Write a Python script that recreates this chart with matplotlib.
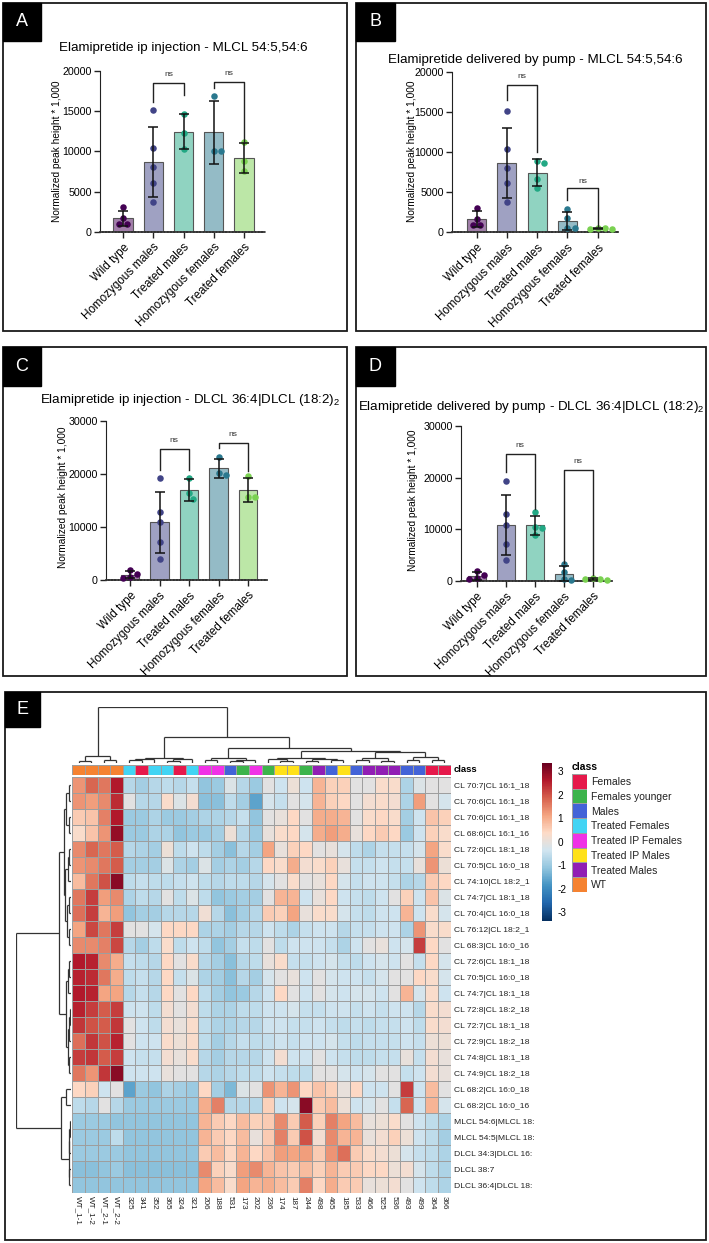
import numpy as np
import matplotlib
matplotlib.use("Agg")
import matplotlib.pyplot as plt
from matplotlib.colors import ListedColormap, Normalize, LinearSegmentedColormap
from matplotlib.patches import Rectangle
from matplotlib.collections import LineCollection
from matplotlib.cm import ScalarMappable

plt.rcParams['font.family'] = ['Liberation Sans', 'DejaVu Sans']
plt.rcParams['mathtext.fontset'] = 'custom'
plt.rcParams['mathtext.rm'] = 'Liberation Sans'
plt.rcParams['mathtext.it'] = 'Liberation Sans:italic'
plt.rcParams['mathtext.bf'] = 'Liberation Sans:bold'
plt.rcParams['axes.unicode_minus'] = False

# ---------------- data: bar panels ----------------
groups = ["Wild type", "Homozygous males", "Treated males", "Homozygous females", "Treated females"]
group_colors = ["#440154", "#414487", "#22A884", "#2A788E", "#7AD151"]
ylabel_text = "Normalized peak height * 1,000"

title_a = "Elamipretide ip injection - MLCL 54:5,54:6"
title_b = "Elamipretide delivered by pump - MLCL 54:5,54:6"
title_c = "Elamipretide ip injection - DLCL 36:4|DLCL (18:2)$_2$"
title_d = "Elamipretide delivered by pump - DLCL 36:4|DLCL (18:2)$_2$"

a_wt = [3030, 1660, 955, 955]
a_hm = [15145, 10373, 8008, 6100, 3734]
a_tm = [14650, 12320, 10330]
a_hf = [16890, 10080, 10080]
a_tf = [11200, 8800, 7590]

b_wt = [3030, 1660, 955, 955]
b_hm = [15145, 10373, 8008, 6100, 3734]
b_tm = [8670, 8920, 6640, 5480]
b_hf = [2860, 1740, 500, 500]
b_tf = [450, 400, 500, 550]

c_wt = [1900, 1100, 500, 400]
c_hm = [19300, 12900, 10900, 7200, 4000]
c_tm = [19300, 15300, 16350]
c_hf = [23200, 20100, 19900]
c_tf = [19600, 15700, 15750]

d_wt = [1900, 1100, 500, 400]
d_hm = [19300, 12900, 10900, 7200, 4000]
d_tm = [13300, 10500, 10300, 9000]
d_hf = [3300, 1700, 250, 300]
d_tf = [600, 300, 350, 250]

# brackets: (group i, group j, top, left leg bottom, right leg bottom, label y)
brackets_a = [(1, 2, 18465, 16200, 17000, 19550), (3, 4, 18670, 17840, 11200, 19650)]
brackets_b = [(1, 2, 18340, 16470, 10040, 19400), (3, 4, 5480, 4030, 500, 6350)]
brackets_c = [(1, 2, 24700, 20750, 20750, 26300), (3, 4, 25800, 25000, 20550, 27400)]
brackets_d = [(1, 2, 24650, 21100, 14000, 26200), (3, 4, 21550, 3400, 1100, 23100)]

# ---------------- data: heatmap ----------------
col_labels = ["WT_1-1", "WT_1-2", "WT_2-1", "WT_2-2", "325", "341", "352", "365", "324", "321",
              "206", "188", "531", "173", "202", "236", "174", "187", "244", "498", "465", "185",
              "533", "466", "525", "536", "493", "499", "364", "366"]
class_names = ["Females", "Females younger", "Males", "Treated Females", "Treated IP Females",
               "Treated IP Males", "Treated Males", "WT"]
class_colors = ["#E6194B", "#3CB44B", "#4363D8", "#42D4F4", "#F032E6", "#FFE119", "#911EB4", "#F58231"]
col_class = [7, 7, 7, 7, 3, 0, 3, 3, 0, 3,
             4, 4, 2, 1, 4, 1, 5, 5, 1, 6, 2, 5,
             2, 6, 6, 6, 2, 2, 0, 0]
row_labels = ["CL 70:7|CL 16:1_18", "CL 70:6|CL 16:1_18", "CL 70:6|CL 16:1_18", "CL 68:6|CL 16:1_16",
              "CL 72:6|CL 18:1_18", "CL 70:5|CL 16:0_18", "CL 74:10|CL 18:2_1", "CL 74:7|CL 18:1_18",
              "CL 70:4|CL 16:0_18", "CL 76:12|CL 18:2_1", "CL 68:3|CL 16:0_16", "CL 72:6|CL 18:1_18",
              "CL 70:5|CL 16:0_18", "CL 74:7|CL 18:1_18", "CL 72:8|CL 18:2_18", "CL 72:7|CL 18:1_18",
              "CL 72:9|CL 18:2_18", "CL 74:8|CL 18:1_18", "CL 74:9|CL 18:2_18", "CL 68:2|CL 16:0_18",
              "CL 68:2|CL 16:0_16", "MLCL 54:6|MLCL 18:", "MLCL 54:5|MLCL 18:", "DLCL 34:3|DLCL 16:",
              "DLCL 38:7", "DLCL 36:4|DLCL 18:"]
heat_values = [
    [1.3, 1.8, 1.6, 2.6, -0.7, -0.9, -0.7, -0.6, -0.7, -0.5, -1.1, -1.0, -0.2, -0.7, -1.0, -0.1, -0.4, 0.1, -0.4, 0.9, 0.5, 0.5, -0.1, -0.1, 0.3, 0.3, -0.8, -0.2, -0.1, -0.1],
    [1.3, 1.2, 1.4, 2.4, -0.1, -0.7, -0.7, 0.3, -0.2, 0.2, -1.2, -1.2, -0.6, -0.9, -1.6, -0.3, -0.5, -0.1, -0.3, 0.9, 0.5, 0.4, -0.1, 0.2, 0.3, 0.2, -0.8, 1.2, -0.1, -0.3],
    [0.6, 0.7, 1.5, 2.6, -1.0, -1.0, -0.8, -1.0, -1.0, -0.9, -0.8, -0.8, -0.7, -0.5, -1.1, -0.1, 0.0, 0.4, -0.1, 1.0, 1.0, 0.9, -0.1, 0.3, 0.4, 0.3, -0.9, -0.4, 0.7, 0.5],
    [0.3, 0.7, 1.3, 2.9, -1.0, -1.0, -0.8, -0.8, -1.1, -1.0, -1.0, -0.9, 0.1, -0.7, -1.0, 0.0, 0.3, 0.4, -0.3, 1.0, 1.2, 1.0, 0.0, 0.4, 0.6, 0.4, -1.0, -0.4, 0.5, 0.3],
    [1.4, 1.8, 1.6, 1.9, -0.7, -0.8, -0.9, 0.1, -0.6, -0.4, -0.6, -0.9, -1.2, -0.7, -0.9, 1.1, 0.0, 0.5, 0.4, -0.1, 0.0, -0.3, -0.6, -0.8, -0.5, -0.5, -0.5, -0.3, 1.1, 0.3],
    [1.3, 1.4, 1.6, 1.9, -0.9, -0.9, -0.9, -0.2, -0.8, -0.9, -0.2, -0.9, -0.8, -0.9, -0.7, 0.4, 0.3, 1.0, 0.2, 0.3, 0.5, 0.0, -0.5, -0.5, -0.4, -0.5, -0.5, 0.0, 1.3, 0.1],
    [0.8, 1.6, 2.0, 3.0, -0.6, -0.5, -0.6, -0.6, -0.5, -0.4, -0.6, -0.7, -0.6, -0.6, -0.7, -0.3, -0.1, 0.3, -0.1, 0.0, 0.4, -0.3, -0.5, -0.4, -0.4, -0.5, -0.8, -0.7, 0.6, 0.4],
    [1.6, 2.2, 1.2, 1.4, -0.8, -0.6, -0.7, -0.1, -0.6, -0.2, -0.6, -1.1, -1.0, -0.9, -0.9, -0.1, 0.9, 0.9, -0.4, 0.0, 0.4, -0.4, -0.5, -0.6, -0.4, -0.1, 0.5, -0.4, 0.7, -0.2],
    [1.7, 2.2, 0.9, 1.2, -1.1, -0.9, -0.9, -0.7, -0.7, -0.7, 0.15, -0.7, -1.2, -0.9, -0.7, 0.6, 0.5, 1.1, 0.0, 0.3, 0.3, -0.3, -0.5, -0.6, -0.4, -0.4, 0.9, -0.4, 0.3, -0.3],
    [1.1, 2.1, 1.6, 2.2, -0.1, -0.1, -0.3, 0.4, 0.4, 0.4, -0.8, -0.8, -0.9, -0.7, -0.7, -0.4, -0.6, -0.8, -0.5, -0.4, -0.4, -0.7, -0.5, -0.5, -0.4, -0.4, -0.8, 1.3, 0.3, 0.3],
    [1.4, 1.4, 1.5, 2.1, -0.7, -0.9, -0.6, 0.3, -0.6, -0.4, -0.6, -1.1, -0.9, -0.5, -0.6, -0.1, -0.6, -0.4, -0.4, -0.4, -0.5, -0.8, -0.4, -0.1, 0.0, -0.4, -0.3, 2.2, 0.4, -0.1],
    [2.6, 2.5, 1.4, 1.0, -0.5, -0.6, -0.7, 0.4, -0.1, 0.3, -0.7, -0.9, -1.2, -0.7, -0.6, 0.0, 0.3, -0.5, -0.5, -0.4, -0.3, -0.5, -0.6, -0.4, -0.3, -0.4, -0.1, -0.5, 0.4, -0.3],
    [2.5, 2.4, 1.6, 1.0, -0.6, -0.5, -0.7, 0.4, -0.5, -0.2, -0.8, -0.9, -1.2, -0.7, -0.9, -0.3, -0.1, 0.0, -0.4, -0.1, -0.3, -0.4, -0.4, -0.5, -0.3, -0.1, -0.1, 0.4, 0.3, -0.3],
    [2.6, 2.5, 1.1, 1.1, -0.7, -0.5, -0.7, 0.4, -0.1, 0.4, -0.6, -0.9, -1.1, -1.0, -0.7, -0.4, 0.4, -0.1, -0.4, -0.1, -0.3, -0.4, -0.3, -0.3, -0.4, -0.1, 0.9, -0.3, 0.3, -0.4],
    [2.5, 2.2, 1.9, 2.2, -0.4, -0.4, -0.6, 0.2, -0.1, 0.2, -0.6, -0.8, -0.8, -0.6, -0.6, -0.4, -0.4, -0.3, -0.5, -0.5, -0.4, -0.4, -0.5, -0.4, -0.5, -0.4, -0.4, -0.7, 0.3, 0.2],
    [2.3, 2.0, 1.9, 2.3, -0.1, -0.4, -0.6, 0.2, 0.0, 0.3, -0.6, -0.8, -0.8, -0.7, -0.7, -0.4, -0.4, -0.5, -0.5, -0.4, -0.5, -0.6, -0.5, -0.6, -0.5, -0.5, -0.4, -0.6, 0.3, 0.2],
    [1.7, 2.3, 2.0, 2.5, -0.1, -0.4, -0.4, 0.3, 0.1, 0.3, -0.6, -0.9, -0.7, -0.5, -0.6, -0.5, -0.4, -0.5, -0.4, -0.4, -0.3, -0.5, -0.6, -0.5, -0.5, -0.5, -0.4, -0.5, 0.1, 0.1],
    [2.2, 2.3, 1.9, 2.2, -0.4, -0.5, -0.5, 0.2, 0.0, 0.3, -0.7, -0.9, -0.7, -0.7, -0.7, -0.4, 0.2, -0.4, -0.4, -0.1, -0.4, -0.5, -0.6, -0.6, -0.5, -0.5, 0.0, -0.5, 0.2, 0.0],
    [1.6, 1.3, 2.3, 3.0, -0.4, -0.4, -0.4, 0.0, -0.1, -0.1, -0.7, -0.8, -0.7, -0.6, -0.6, -0.4, -0.5, -0.6, -0.6, -0.1, -0.1, -0.3, -0.4, -0.3, -0.1, -0.1, -0.5, -0.4, 0.2, 0.0],
    [0.4, 0.5, -0.4, -0.1, -1.6, -1.0, -1.1, -0.8, -0.9, -1.0, 0.4, -0.9, -1.3, -0.2, -0.1, 1.3, 0.9, 1.3, 0.4, 0.7, 0.5, 0.0, 0.4, -0.4, -0.4, -0.1, 2.2, -0.4, 0.8, -0.1],
    [-0.6, -0.7, -0.1, -0.7, -1.0, -1.0, -1.0, -1.0, -1.0, -1.0, 1.0, 1.5, -0.7, -0.7, -0.7, 0.5, -0.4, -0.3, 3.0, 0.6, 0.8, 0.1, -0.4, -0.3, -0.1, -0.5, 1.8, -0.4, 0.9, -0.3],
    [-1.0, -1.0, -1.0, -1.1, -1.1, -1.1, -1.1, -1.1, -1.1, -1.1, 0.9, 0.6, 0.4, 0.8, 0.5, 0.6, 1.4, 0.6, 1.9, 0.5, 1.5, 1.1, 0.8, 0.0, 0.1, 0.3, -0.1, -0.4, -0.6, -0.8],
    [-1.0, -1.0, -1.0, -0.6, -1.1, -1.1, -1.1, -1.1, -1.1, -1.1, 0.9, 0.6, 0.4, 0.8, 0.0, 0.6, 1.5, 0.6, 2.0, 0.2, 1.4, 0.9, 0.9, 0.0, 0.2, 0.5, 0.1, -0.4, -0.6, -0.9],
    [-1.0, -1.0, -1.0, -1.0, -1.1, -1.1, -1.1, -1.1, -1.1, -1.1, 0.6, 0.8, 0.4, 0.9, 0.4, 0.7, 1.2, 1.1, 1.2, 0.6, 1.3, 1.7, 0.6, 0.3, 0.2, 0.1, -0.3, -0.5, -0.6, -0.8],
    [-1.2, -1.2, -1.1, -1.0, -1.2, -1.2, -1.2, -1.2, -1.2, -1.2, 1.4, 0.5, 0.3, 1.2, 1.4, 0.9, 0.7, 0.6, 0.8, 0.5, 0.9, 0.6, 0.6, 0.4, 0.4, 0.1, 0.2, -0.3, -0.6, -0.8],
    [-1.1, -1.1, -1.1, -1.1, -1.1, -1.1, -1.1, -1.1, -1.1, -1.1, 1.1, 0.8, 0.3, 1.1, 0.9, 1.0, 0.8, 0.6, 1.5, 0.4, 1.0, 0.6, 0.6, 0.0, 0.1, 0.2, -0.1, -0.4, -0.6, -0.8],
]
# dendrograms: (left, right, height); leaves are column / row indices
col_tree = (
    ((0, 1, 0.4), (2, 3, 0.6), 1.25),
    ((((4, 5, 0.45), 6, 0.75), ((7, 8, 0.4), 9, 0.65), 0.95),
     (((10, 11, 0.45), ((12, 13, 0.35), 14, 0.6), 0.9),
      (((15, (16, 17, 0.35), 0.7), ((18, 19, 0.4), (20, 21, 0.45), 0.75), 0.95),
       (((22, 23, 0.45), (24, 25, 0.4), 0.85), ((26, 27, 0.55), (28, 29, 0.5), 1.0), 1.9),
       2.1),
      2.6),
     4.6),
    10.0)
row_tree = (
    ((((0, 1, 0.35), (2, 3, 0.4), 0.9),
      (((4, 5, 0.3), 6, 0.5), ((7, 8, 0.3), (9, 10, 0.45), 0.7), 1.1),
      1.35),
     (((11, 12, 0.3), 13, 0.5),
      (((14, 15, 0.2), 16, 0.35), (17, 18, 0.4), 0.6),
      1.0),
     2.1),
    ((19, 20, 0.95),
     (((21, 22, 0.15), 23, 0.3), (24, 25, 0.3), 0.45),
     1.85),
    10.0)

# heatmap palette (reversed 10-class RdBu ramp)
heat_palette = ["#053061", "#2166AC", "#4393C3", "#92C5DE", "#D1E5F0",
                "#FDDBC7", "#F4A582", "#D6604D", "#B2182B", "#67001F"]

# ---------------- figure helpers ----------------
W, H = 709, 1243
fig = plt.figure(figsize=(W / 100, H / 100), dpi=100)


def fx(px):
    return px / W


def fy(py):
    return 1 - py / H


def axes_px(x0, y0, x1, y1):
    return fig.add_axes([fx(x0), fy(y1), (x1 - x0) / W, (y1 - y0) / H])


def box(x0, y0, x1, y1, label=None, lbox=None):
    fig.patches.append(Rectangle((fx(x0), fy(y1)), (x1 - x0) / W, (y1 - y0) / H,
                                 transform=fig.transFigure, fill=False, lw=1.3, ec="#1a1a1a"))
    if label:
        lx0, ly0, lx1, ly1 = lbox
        fig.patches.append(Rectangle((fx(lx0), fy(ly1)), (lx1 - lx0) / W, (ly1 - ly0) / H,
                                     transform=fig.transFigure, fc="black", ec="black"))
        fig.text(fx((lx0 + lx1) / 2), fy((ly0 + ly1) / 2), label, color="white",
                 fontsize=13, ha="center", va="center")


def swarm_offsets(ax, xc, vals, diam):
    tr = ax.transData
    ppu = tr.transform((1, 0))[0] - tr.transform((0, 0))[0]
    placed = []
    offs = [0.0] * len(vals)
    order = np.argsort(vals)[::-1]
    cands = [0, 0.55, -0.55, 1.1, -1.1, 1.65, -1.65, 2.2, -2.2]
    for idx in order:
        yp = tr.transform((xc, vals[idx]))[1]
        for c in cands:
            xo = c * diam
            if all((xo - px) ** 2 + (yp - py) ** 2 >= (0.95 * diam) ** 2 for px, py in placed):
                break
        placed.append((xo, yp))
        offs[idx] = xo / ppu
    return offs


def bar_panel(geom, datasets, ymax, ystep, brackets, title, tpos, ylpos):
    left, right, y0, ytop, c0, sp = geom
    ax = axes_px(left, ytop, right, y0)
    xl0 = -(c0 - left) / sp
    xl1 = (right - c0) / sp
    ax.set_xlim(xl0, xl1)
    ax.set_ylim(0, ymax)
    x = np.arange(len(datasets))
    means = [np.mean(d) for d in datasets]
    sds = [np.std(d, ddof=1) for d in datasets]
    for i, d in enumerate(datasets):
        ax.bar(x[i], means[i], width=0.63, color=group_colors[i], alpha=0.5, zorder=1)
        ax.bar(x[i], means[i], width=0.63, fill=False, edgecolor="#555555", lw=0.8, zorder=1.5)
        offs = swarm_offsets(ax, x[i], d, 6.6)
        ax.scatter(x[i] + np.array(offs), d, s=22, color=group_colors[i], zorder=3,
                   clip_on=False, linewidths=0)
        ax.errorbar(x[i], means[i], yerr=sds[i], fmt="none", ecolor="#111111", elinewidth=1.1,
                    capsize=3.8, capthick=1.1, zorder=4)
    for (i, j, top, lb, rb, ty) in brackets:
        ax.plot([x[i], x[i], x[j], x[j]], [lb, top, top, rb], color="#222222", lw=1.0,
                zorder=5, clip_on=False)
        ax.text((x[i] + x[j]) / 2, ty, "ns", ha="center", va="center", fontsize=6,
                color="#333333")
    ax.set_yticks(np.arange(0, ymax + 1, ystep))
    ax.set_yticklabels([str(int(v)) for v in np.arange(0, ymax + 1, ystep)], fontsize=7.7)
    ax.set_xticks(x)
    ax.set_xticklabels(groups, rotation=45, ha="right", rotation_mode="anchor", fontsize=8.4)
    ax.tick_params(axis="both", direction="out", length=4, width=1, color="#222222", pad=2)
    ax.tick_params(axis="x", pad=3)
    for s in ["top", "right"]:
        ax.spines[s].set_visible(False)
    ax.spines["left"].set_color("#222222")
    ax.spines["bottom"].set_color("#333333")
    ax.spines["bottom"].set_linewidth(1.3)
    ax.spines["bottom"].set_linestyle((0, (1.2, 0.6)))
    ax.patch.set_alpha(0)
    fig.text(fx(tpos[0]), fy(tpos[1]), title, ha="center", va="center", fontsize=9.6)
    fig.text(fx(ylpos[0]), fy(ylpos[1]), ylabel_text, rotation=90, ha="center", va="center",
             fontsize=7.3)
    return ax


# ---------------- panels A-D ----------------
box(3, 3, 347, 331, "A", (3, 3, 41, 41))
box(356, 3, 706, 331, "B", (356, 3, 395, 41))
box(3, 347, 347, 676, "C", (3, 347, 41, 386))
box(356, 347, 706, 676, "D", (356, 347, 395, 386))
box(5, 692, 706, 1240, "E", (5, 692, 40, 727))

bar_panel((100, 265, 231.7, 71, 123, 30.25), [a_wt, a_hm, a_tm, a_hf, a_tf], 20000, 5000,
          brackets_a, title_a, (183, 48), (57, 151))
bar_panel((452, 618, 232.3, 71.7, 476.7, 30.25), [b_wt, b_hm, b_tm, b_hf, b_tf], 20000, 5000,
          brackets_b, title_b, (535, 60), (412, 151))
bar_panel((106, 267, 580, 421, 130, 29.5), [c_wt, c_hm, c_tm, c_hf, c_tf], 30000, 10000,
          brackets_c, title_c, (190, 400), (63, 497))
bar_panel((461, 612, 581, 426, 476.7, 29), [d_wt, d_hm, d_tm, d_hf, d_tf], 30000, 10000,
          brackets_d, title_d, (531, 407), (413, 500))

# ---------------- panel E: heatmap ----------------
HX0, HX1, HY0, HY1 = 72.3, 450.7, 777, 1193
grid_c = "#9E9E9E"
vlim = 3.35
heat_cmap = LinearSegmentedColormap.from_list("rdbu10", heat_palette, N=256)
hm = axes_px(HX0, HY0, HX1, HY1)
hm.pcolormesh(np.array(heat_values), cmap=heat_cmap, vmin=-vlim, vmax=vlim,
              edgecolors=grid_c, linewidth=0.7)
hm.set_xlim(0, len(col_labels))
hm.set_ylim(len(row_labels), 0)
hm.set_yticks(np.arange(len(row_labels)) + 0.5)
hm.set_yticklabels(row_labels, fontsize=6.1, color="#222222")
hm.yaxis.tick_right()
hm.set_xticks(np.arange(len(col_labels)) + 0.5)
hm.set_xticklabels(col_labels, rotation=-90, fontsize=5.9, color="#222222", va="top", ha="center")
hm.tick_params(length=0, pad=2.5)
for s in hm.spines.values():
    s.set_visible(False)

# column annotation
an = axes_px(HX0, 764.5, HX1, 774.5)
an.pcolormesh(np.array([col_class]), cmap=ListedColormap(class_colors), vmin=-0.5,
              vmax=len(class_colors) - 0.5, edgecolors=grid_c, linewidth=0.7)
an.set_xlim(0, len(col_labels))
an.set_axis_off()
fig.text(fx(454), fy(769.5), "class", fontsize=6.8, fontweight="bold", va="center", ha="left")


def dendro_segments(node):
    if isinstance(node, int):
        return node + 0.5, 0.0, []
    l, r, h = node
    cl, hl, sl = dendro_segments(l)
    cr, hr, sr = dendro_segments(r)
    segs = sl + sr + [[(cl, hl), (cl, h)], [(cr, hr), (cr, h)], [(cl, h), (cr, h)]]
    return (cl + cr) / 2, h, segs


# column dendrogram
_, ch, csegs = dendro_segments(col_tree)
cd = axes_px(HX0, 707, HX1, 763)
cd.add_collection(LineCollection(csegs, colors="#333333", linewidths=0.9))
cd.set_xlim(0, len(col_labels))
cd.set_ylim(0, ch)
cd.set_axis_off()

# row dendrogram
_, rh, rsegs = dendro_segments(row_tree)
rsegs_sw = [[(p[1], p[0]) for p in s] for s in rsegs]
rd = axes_px(16, HY0, 71, HY1)
rd.add_collection(LineCollection(rsegs_sw, colors="#333333", linewidths=0.9))
rd.set_xlim(rh, 0)
rd.set_ylim(len(row_labels), 0)
rd.set_axis_off()

# colour bar
cax = axes_px(541.7, 762.7, 552.3, 920.7)
cb = fig.colorbar(ScalarMappable(norm=Normalize(-vlim, vlim), cmap=heat_cmap), cax=cax,
                  ticks=[3, 2, 1, 0, -1, -2, -3])
cb.outline.set_visible(False)
cax.tick_params(length=0, labelsize=7.2, pad=3.5)

# class legend
lg = axes_px(572, 774, 586.7, 891.7)
lg.pcolormesh(np.arange(len(class_names)).reshape(-1, 1), cmap=ListedColormap(class_colors),
              vmin=-0.5, vmax=len(class_colors) - 0.5, edgecolors=grid_c, linewidth=0.7)
lg.set_ylim(len(class_names), 0)
lg.set_xlim(0, 1)
lg.set_xticks([])
lg.set_yticks(np.arange(len(class_names)) + 0.5)
lg.set_yticklabels(class_names, fontsize=7.5, color="#222222")
lg.yaxis.tick_right()
lg.tick_params(length=0, pad=3)
for s in lg.spines.values():
    s.set_visible(False)
fig.text(fx(572), fy(767), "class", fontsize=7.5, fontweight="bold", va="center", ha="left")

fig.savefig("out.png", dpi=100)
